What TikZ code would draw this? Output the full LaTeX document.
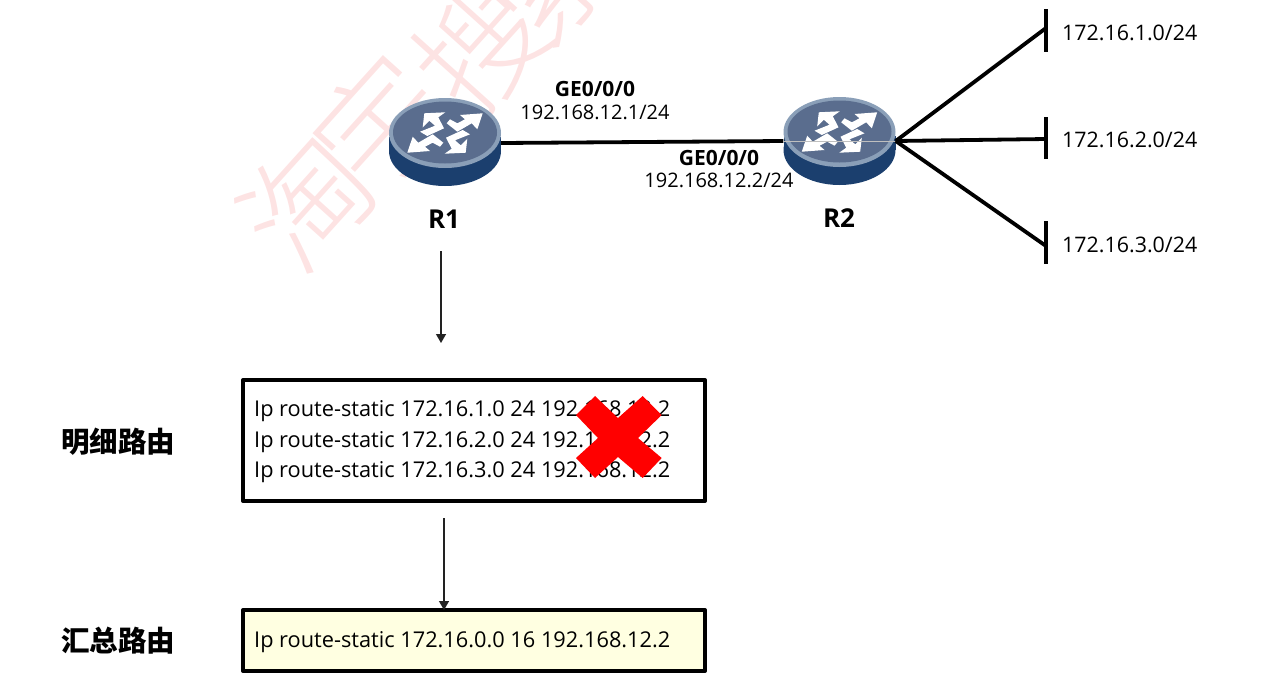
\documentclass[tikz,border=0pt]{standalone}
\usepackage{fontspec}
\setmainfont{Open Sans}
\newfontfamily\cjk{Noto Sans CJK SC}
\newfontfamily\wmfont{Noto Sans CJK SC Light}
\usetikzlibrary{arrows.meta}
\definecolor{rtop}{HTML}{5A6D8E}
\definecolor{rrim}{HTML}{8A9FB8}
\definecolor{rside}{HTML}{1B3F6E}
\definecolor{wm}{HTML}{FDE3E3}
\definecolor{flowc}{HTML}{222222}
\tikzset{
  x=1pt,y=-1pt,
  lab/.style={inner sep=0pt,font=\fontsize{21.4}{21.4}\selectfont,anchor=west},
  lab2/.style={inner sep=0pt,font=\fontsize{20}{20}\selectfont},
  labb/.style={inner sep=0pt,font=\fontsize{21}{21}\selectfont\bfseries},
  rname/.style={inner sep=0pt,font=\fontsize{26}{26}\selectfont\bfseries},
  side/.style={inner sep=0pt,font=\cjk\fontsize{28.5}{28.5}\selectfont\bfseries},
  cfg/.style={inner sep=0pt,font=\fontsize{21.75}{21.75}\selectfont,anchor=west},
  link/.style={line width=3.8pt,black},
  tick/.style={line width=4pt,black},
  flow/.style={line width=1.3pt,flowc,-{Triangle[length=9pt,width=10pt]}},
  box/.style={draw=black,line width=4pt,line join=round,inner sep=0pt,minimum width=462pt},
  wmk/.style={inner sep=0pt,text=wm,font=\wmfont\fontsize{125}{125}\selectfont,rotate=48},
  rnode/.style={inner sep=0pt,minimum width=112pt,minimum height=88pt},
}
\newcommand{\routerglyph}[2]{%
  \begin{scope}[shift={(#1,#2)}]
    \fill[rside] (-56,4) rectangle (56,18);
    \fill[rside] (0,18) ellipse[x radius=56,y radius=35];
    \fill[rrim] (0,0) ellipse[x radius=56,y radius=35];
    \fill[rtop] (0,-0.5) ellipse[x radius=52,y radius=31];
    \foreach \s in {1,-1}{
      \begin{scope}[xscale=\s,yscale=\s]
      \fill[white] (37.7,-19.7) -- (15,-18) -- (20,-13.7) -- (12.3,-9.7) -- (5,-13.7) -- (1.7,-9.7) -- (12.3,-1.3) -- (26.7,-9.7) -- (32.3,-3.7) -- cycle;
      \fill[white] (-20.7,-19.7) -- (0.3,-20.7) -- (-6.7,-15.7) -- (-1,-4.7) -- (-17.7,3) -- (-25,-1.3) -- (-10,-7.3) -- (-15.7,-12.3) -- (-22.3,-5.7) -- cycle;
      \end{scope}
    }
  \end{scope}}
\begin{document}
\begin{tikzpicture}
\useasboundingbox (0,0) rectangle (1265,694);
\node[wmk] (wm1) at (306,201) {淘};
\node[wmk] (wm2) at (380,123) {宇};
\node[wmk] (wm3) at (480,46) {搜};
\node[wmk] (wm4) at (552,-25) {索};

\node[rnode] (r1) at (445,143) {};
\node[rnode] (r2) at (839.5,141) {};
\coordinate (n1a) at (1046,9);
\coordinate (n1b) at (1046,52);
\coordinate (n2a) at (1046,117);
\coordinate (n2b) at (1046,159);
\coordinate (n3a) at (1046,221);
\coordinate (n3b) at (1046,264);
\coordinate (n1m) at (1046,28);
\coordinate (n2m) at (1046,139);
\coordinate (n3m) at (1046,246);

\draw[link] (r1.east) -- (r2.west);
\routerglyph{445}{133}
\routerglyph{839.5}{132}
\draw[gray!50,line width=0.4pt] (r2.west) -- (r2.east);
\draw[link] (r2.east) -- (n1m);
\draw[link] (r2.east) -- (n2m);
\draw[link] (r2.east) -- (n3m);
\draw[tick] (n1a) -- (n1b);
\draw[tick] (n2a) -- (n2b);
\draw[tick] (n3a) -- (n3b);

\node[rname] (R1) at (444,219) {R1};
\node[rname] (R2) at (839,218) {R2};

\node[labb] (g1) at (595,89) {GE0/0/0};
\node[lab2] (a1) at (595,112) {192.168.12.1/24};
\node[labb] (g2) at (719,158) {GE0/0/0};
\node[lab2] (a2) at (719,180) {192.168.12.2/24};

\node[lab] (t1) at (1062,33) {172.16.1.0/24};
\node[lab] (t2) at (1062,140) {172.16.2.0/24};
\node[lab] (t3) at (1062,245) {172.16.3.0/24};

\node[box,minimum height=121pt] (detail) at (474,440.5) {};
\node[box,minimum height=61pt,fill={rgb,255:red,255;green,255;blue,225}] (sum) at (474,640.5) {};
\node[cfg] (c1) at (254,411) {Ip route-static 172.16.1.0 24 192.168.12.2};
\node[cfg] (c2) at (254,442) {Ip route-static 172.16.2.0 24 192.168.12.2};
\node[cfg] (c3) at (254,472) {Ip route-static 172.16.3.0 24 192.168.12.2};
\node[cfg] (c4) at (254,642) {Ip route-static 172.16.0.0 16 192.168.12.2};

\fill[red] (595,396) -- (618,418) -- (642.7,396) -- (661.7,415) -- (638,438) -- (661.7,458) -- (642.7,478) -- (618,457) -- (595,478) -- (576,458) -- (598,438) -- (576,415) -- cycle;

\node[side] (s1) at (118,442) {明细路由};
\node[side] (s2) at (118,641) {汇总路由};

\coordinate (f1a) at (441,251);
\coordinate (f1b) at (441,343);
\coordinate (f2a) at (444,518);
\coordinate (f2b) at (444,610);
\draw[flow] (f1a) -- (f1b);
\draw[flow] (f2a) -- (f2b);
\end{tikzpicture}
\end{document}
